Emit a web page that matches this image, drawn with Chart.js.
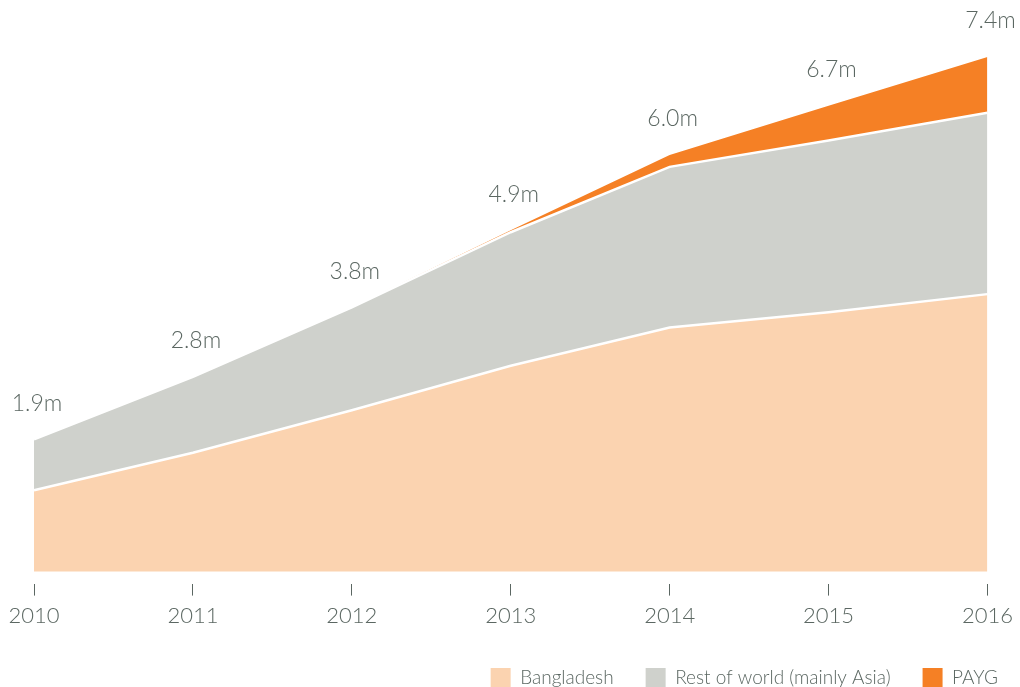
<!DOCTYPE html>
<html>
<head>
<meta charset="utf-8">
<script src="https://cdn.jsdelivr.net/npm/chart.js@4"></script>
<style>
  html, body { margin: 0; padding: 0; background: #fff; }
  #wrap { width: 1020px; height: 687px; }
</style>
</head>
<body>
<div id="wrap"><canvas id="area_chart"></canvas></div>
<script>
'use strict'
// data, millions of customers
let years = ["2010", "2011", "2012", "2013", "2014", "2015", "2016"];
let bangladesh = [1.17, 1.71, 2.32, 2.96, 3.51, 3.73, 3.99];
let restOfWorld = [0.73, 1.09, 1.48, 1.92, 2.31, 2.47, 2.61];
let payg = [0, 0, 0, 0.03, 0.17, 0.5, 0.8];
let totalLabels = ["1.9m", "2.8m", "3.8m", "4.9m", "6.0m", "6.7m", "7.4m"];

let textColor = "#5b6762";
let fontFamily = "Lato, 'Open Sans', sans-serif";

let totalLabelPlugin = {
    id: "totalLabels",
    afterDatasetsDraw: function (chart) {
        let ctx = chart.ctx;
        // top stacked dataset gives the total position
        let meta = chart.getDatasetMeta(chart.data.datasets.length - 1);
        ctx.save();
        ctx.fillStyle = textColor;
        ctx.font = "300 23px " + fontFamily;
        ctx.textAlign = "center";
        ctx.textBaseline = "middle";
        meta.data.forEach(function (point, index) {
            ctx.fillText(totalLabels[index], point.x + 3, point.y - 36);
        });
        ctx.restore();
    },
};

let chart = new Chart("area_chart", {
    type: "line",
    data: {
        labels: years,
        datasets: [
            {
                label: "Bangladesh",
                data: bangladesh,
                backgroundColor: "#fbd3b0",
                borderColor: "#ffffff",
                borderWidth: 2.5,
                fill: "origin",
            },
            {
                label: "Rest of world (mainly Asia)",
                data: restOfWorld,
                backgroundColor: "#cfd1cc",
                borderColor: "#ffffff",
                borderWidth: 2.5,
                fill: "-1",
            },
            {
                label: "PAYG",
                data: payg,
                backgroundColor: "#f58025",
                borderColor: "rgba(0,0,0,0)",
                borderWidth: 0,
                fill: "-1",
            },
        ],
    },
    options: {
        responsive: true,
        maintainAspectRatio: false,
        animation: false,
        elements: {
            point: { radius: 0, hoverRadius: 0 },
            line: { tension: 0 },
        },
        layout: {
            padding: { left: 34, right: -10, top: 0, bottom: -11 },
        },
        scales: {
            x: {
                offset: false,
                grid: {
                    display: true,
                    drawOnChartArea: false,
                    drawTicks: true,
                    tickLength: 12,
                    tickColor: "#5b6762",
                    tickWidth: 1,
                },
                border: { display: false },
                ticks: {
                    color: textColor,
                    font: { family: fontFamily, size: 22, weight: 300 },
                    padding: 7,
                    maxRotation: 0,
                },
            },
            y: {
                display: false,
                stacked: true,
                min: -0.173,
                max: 8.22,
            },
            // empty right axis, keeps room on the right of the plot
            yRight: {
                position: "right",
                display: true,
                grid: { display: false },
                border: { display: false },
                ticks: { display: false },
                afterFit: function (scale) {
                    scale.width = 26;
                },
            },
        },
        plugins: {
            legend: {
                position: "bottom",
                align: "end",
                labels: {
                    boxWidth: 20,
                    boxHeight: 20,
                    padding: 32,
                    color: textColor,
                    font: { family: fontFamily, size: 19, weight: 300 },
                    generateLabels: function (chart) {
                        return chart.data.datasets.map(function (ds, i) {
                            return {
                                text: ds.label,
                                fillStyle: ds.backgroundColor,
                                strokeStyle: ds.backgroundColor,
                                lineWidth: 0,
                                fontColor: textColor,
                                datasetIndex: i,
                            };
                        });
                    },
                },
            },
            tooltip: { enabled: false },
        },
    },
    plugins: [totalLabelPlugin],
});
</script>
</body>
</html>
